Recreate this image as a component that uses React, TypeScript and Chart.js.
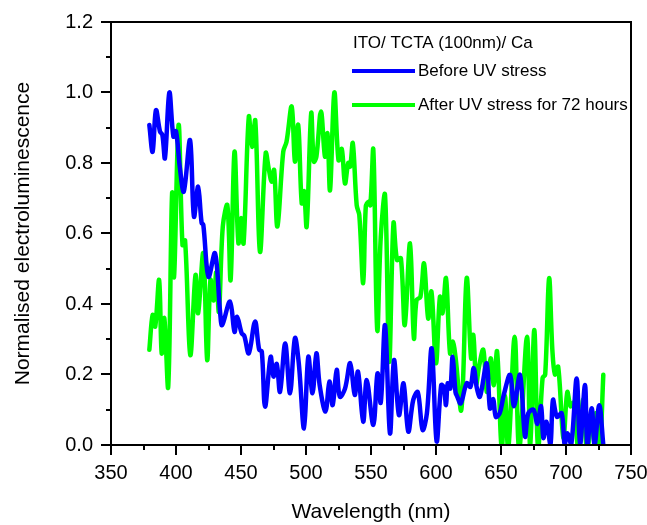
import React, { useEffect, useRef } from "react";
import { Chart, registerables } from "chart.js";

Chart.register(...registerables);

// Wavelength (nm) and normalised EL for "Before UV stress"
const blueX = [
  379.5, 382, 384.6, 387.7, 389.5, 391.5, 394.9, 398, 400, 403, 406, 410.8, 413.8, 417, 419.7, 421,
  425, 430, 434, 435.5, 441.5, 445, 447, 450.5, 452.5, 456, 460.8, 464, 466, 468.5, 472.8, 475,
  477.5, 480, 484, 487.7, 491.5, 494.5, 498.5, 501.8, 505, 508, 510.5, 515, 518, 520.5, 523.6, 526,
  530, 534, 537.5, 540, 544, 546.7, 551.8, 555, 557.5, 560.8, 564.6, 567.7, 571.5, 575, 578.7,
  582.5, 586, 589.7, 593, 596.7, 600.5, 604, 606, 607.7, 609, 611, 612.8, 615, 616.4, 619, 623.6,
  626.5, 629, 631.5, 633.8, 639, 641.5, 644, 646, 649, 652, 657, 660, 664.6, 668.5, 671, 675, 678,
  680.8, 682.6, 685, 688, 690, 693, 696.7, 699, 701, 704, 708.2, 710.8, 714.6, 716.4, 719.8, 722,
  725.6, 728.7,
];
const blueY = [
  0.908, 0.832, 0.95, 0.889, 0.88, 0.814, 1.0, 0.875, 0.89, 0.786, 0.719, 0.865, 0.648, 0.733, 0.63, 0.625,
  0.477, 0.544, 0.374, 0.34, 0.407, 0.321, 0.364, 0.317, 0.31, 0.26, 0.35, 0.27, 0.265, 0.109, 0.25, 0.194,
  0.23, 0.151, 0.288, 0.147, 0.303, 0.23, 0.047, 0.25, 0.147, 0.26, 0.17, 0.095, 0.18, 0.113, 0.213, 0.137,
  0.16, 0.232, 0.142, 0.208, 0.066, 0.184, 0.057, 0.203, 0.12, 0.34, 0.033, 0.241, 0.085, 0.175, 0.038,
  0.128, 0.15, 0.043, 0.09, 0.274, 0.01, 0.17, 0.165, 0.113, 0.175, 0.16, 0.25, 0.15, 0.137, 0.118, 0.175,
  0.165, 0.218, 0.16, 0.137, 0.232, 0.104, 0.13, 0.08, 0.09, 0.14, 0.199, 0.11, 0.199, 0.024, 0.09, 0.1, 0.06,
  0.11, 0.02, 0.066, 0.0, 0.128, 0.08, 0.09, 0.0, 0.033, 0.0, 0.189, 0.0, 0.17, 0.0, 0.104, 0.0,
  0.113, 0.0,
];

// Wavelength (nm) and normalised EL for "After UV stress for 72 hours"
const greenX = [
  379.5, 382, 384, 387, 389, 391, 394, 397, 398.5, 402, 405, 407, 411, 415, 417, 421, 424, 426.5, 429,
  431, 433, 436, 439.5, 442, 445, 448, 450, 452, 456, 458.5, 461, 464.6, 469, 471.5, 473.6, 475.5, 478,
  482.5, 485, 489, 491.5, 494, 496.7, 498.5, 500.5, 504, 506, 508, 511.5, 514.6, 516.5, 518.5, 521.8,
  525, 527.5, 530, 532.5, 534, 536, 539, 541, 544, 546, 548, 549.5, 551.8, 554.8, 557.5, 560.8, 564,
  567.3, 570, 573, 576, 580, 583, 585, 588, 590.8, 594, 596.5, 600, 603, 605, 607.7, 610.8, 613, 615,
  619.5, 623.6, 627, 628.7, 631, 633, 636.4, 639, 642, 644.5, 647, 650.5, 653, 655.6, 660.5, 664, 670,
  672.5, 675.6, 678.5, 682, 684, 687, 689.5, 691.5, 694, 698, 701, 703.5, 706, 709.5, 713.3, 716, 721,
  723.6, 726, 728.7,
];
const greenY = [
  0.27, 0.369, 0.336, 0.468, 0.26, 0.36, 0.165, 0.714, 0.477, 0.908, 0.567, 0.58, 0.255, 0.482, 0.374, 0.544, 0.241, 0.468, 0.41,
  0.49, 0.378, 0.62, 0.68, 0.468, 0.832, 0.573, 0.644, 0.573, 0.931, 0.846, 0.92, 0.548, 0.828, 0.78, 0.747, 0.78, 0.62,
  0.832, 0.86, 0.96, 0.804, 0.908, 0.686, 0.72, 0.62, 0.941, 0.804, 0.818, 0.946, 0.818, 0.884, 0.723, 1.0,
  0.808, 0.84, 0.742, 0.8, 0.79, 0.856, 0.68, 0.652, 0.459, 0.676, 0.69, 0.68, 0.837, 0.326, 0.59, 0.709, 0.236,
  0.629, 0.525, 0.53, 0.34, 0.572, 0.303, 0.411, 0.42, 0.515, 0.359, 0.435, 0.232, 0.42, 0.374, 0.473, 0.26, 0.293, 0.25,
  0.1, 0.473, 0.246, 0.312, 0.175, 0.22, 0.27, 0.151, 0.246, 0.17, 0.265, -0.01, 0.14, -0.01, 0.307, -0.01, 0.307,
  -0.01, 0.326, -0.01, 0.19, 0.2, 0.473, 0.27, 0.2, 0.222, 0.02, 0.15, 0.11, 0.12, -0.01, 0.13, -0.01, 0.08,
  0.09, -0.01, 0.199,
];

const seriesLabels = ["Before UV stress", "After UV stress for 72 hours"];
const seriesColors = ["#0000ff", "#00ff00"];
const legendTitle = "ITO/ TCTA (100nm)/ Ca";
const xMin = 350;
const xMax = 750;
const xStep = 50;
const yMin = 0;
const yMax = 1.2;
const yStep = 0.2;

const FONT = '"Liberation Sans", Arial, Helvetica, sans-serif';

export default function App() {
  const ref = useRef<HTMLCanvasElement | null>(null);

  useEffect(() => {
    if (!ref.current) return;

    const framePlugin = {
      id: "frameTicksLegend",
      afterDraw(chart: any) {
        const { ctx, chartArea, scales } = chart;
        const { left, right, top, bottom } = chartArea;
        ctx.save();
        ctx.strokeStyle = "#000";
        ctx.lineWidth = 2;
        ctx.strokeRect(left, top, right - left, bottom - top);

        // x ticks (major + minor, outward)
        ctx.beginPath();
        for (let v = xMin; v <= xMax + 1e-9; v += xStep / 2) {
          const px = Math.round(scales.x.getPixelForValue(v));
          const major = Math.abs((v - xMin) % xStep) < 1e-6;
          ctx.moveTo(px, bottom);
          ctx.lineTo(px, bottom + (major ? 10 : 5));
        }
        // y ticks
        for (let i = 0; i <= Math.round((yMax - yMin) / (yStep / 2)); i++) {
          const v = yMin + (i * yStep) / 2;
          const py = Math.round(scales.y.getPixelForValue(v));
          const major = i % 2 === 0;
          ctx.moveTo(left, py);
          ctx.lineTo(left - (major ? 10 : 5), py);
        }
        ctx.stroke();

        // legend
        const lx = left + 242;
        ctx.fillStyle = "#000";
        ctx.font = `17px ${FONT}`;
        ctx.textBaseline = "middle";
        ctx.textAlign = "left";
        ctx.fillText(legendTitle, lx, top + 21);
        chart.data.datasets.forEach((ds: any, i: number) => {
          const y = top + 49 + i * 34;
          ctx.strokeStyle = ds.borderColor;
          ctx.lineWidth = 4;
          ctx.beginPath();
          ctx.moveTo(lx - 1, y);
          ctx.lineTo(lx + 62, y);
          ctx.stroke();
          ctx.fillStyle = "#000";
          ctx.fillText(ds.label, lx + 65, y);
        });
        ctx.restore();
      },
    };

    const commonDs = {
      borderWidth: 4.5,
      pointRadius: 0,
      tension: 0.35,
      fill: false,
      borderJoinStyle: "round" as const,
      borderCapStyle: "round" as const,
    };

    const chart = new Chart(ref.current, {
      type: "line",
      data: {
        datasets: [
          {
            ...commonDs,
            label: seriesLabels[0],
            data: blueX.map((x, i) => ({ x, y: blueY[i] })),
            borderColor: seriesColors[0],
            backgroundColor: seriesColors[0],
          },
          {
            ...commonDs,
            label: seriesLabels[1],
            data: greenX.map((x, i) => ({ x, y: greenY[i] })),
            borderColor: seriesColors[1],
            backgroundColor: seriesColors[1],
          },
        ],
      },
      options: {
        responsive: false,
        animation: false,
        events: [],
        layout: { padding: { top: 22, right: 16, left: 0, bottom: 0 } },
        plugins: {
          legend: { display: false },
          tooltip: { enabled: false },
        },
        scales: {
          x: {
            type: "linear",
            min: xMin,
            max: xMax,
            ticks: {
              stepSize: xStep,
              color: "#000",
              padding: 16,
              font: { family: FONT, size: 20 },
              maxRotation: 0,
            },
            grid: { display: false, drawTicks: false },
            border: { display: false },
            title: {
              display: true,
              text: "Wavelength (nm)",
              color: "#000",
              font: { family: FONT, size: 21 },
              padding: { top: 0, bottom: 0 },
            },
            afterFit(scale: any) {
              scale.height = 80;
              scale.paddingLeft = 0;
              scale.paddingRight = 0;
              scale.paddingTop = 0;
              scale.paddingBottom = 0;
            },
          },
          y: {
            type: "linear",
            min: yMin,
            max: yMax,
            ticks: {
              stepSize: yStep,
              color: "#000",
              padding: 18,
              font: { family: FONT, size: 20 },
              callback: (v: any) => Number(v).toFixed(1),
            },
            grid: { display: false, drawTicks: false },
            border: { display: false },
            title: {
              display: true,
              text: "Normalised electroluminescence",
              color: "#000",
              font: { family: FONT, size: 21 },
              padding: { top: 11, bottom: 0 },
            },
            afterFit(scale: any) {
              scale.width = 111;
              scale.paddingLeft = 0;
              scale.paddingRight = 0;
              scale.paddingTop = 0;
              scale.paddingBottom = 0;
            },
          },
        },
      },
      plugins: [framePlugin],
    });

    return () => chart.destroy();
  }, []);

  return (
    <div style={{ position: "absolute", left: 0, top: 0, width: 647, height: 525, background: "#fff" }}>
      <canvas ref={ref} width={647} height={525} style={{ display: "block" }} />
    </div>
  );
}
